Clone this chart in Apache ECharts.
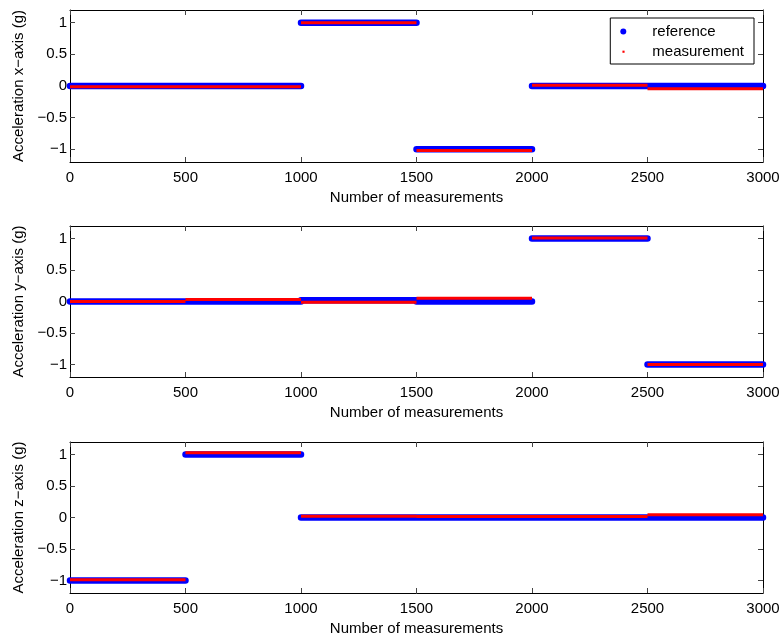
<!DOCTYPE html>
<html><head><meta charset="utf-8">
<script src="https://cdn.jsdelivr.net/npm/echarts@6/dist/echarts.min.js"></script>
<style>html,body{margin:0;padding:0;background:#fff}#c{width:784px;height:640px}</style>
</head><body><div id="c"></div>
<script>
// segment boundaries (sample index)
const segmentEdges = [0, 500, 1000, 1500, 2000, 2500, 3000];
// value of each 500-sample segment
const refX  = [0, 0, 1, -1, 0, 0];
const measX = [-0.01, -0.01, 1.0, -1.02, 0.01, -0.045];
const refY  = [0, 0, 0.02, 0, 1, -1];
const measY = [0, 0.03, -0.01, 0.05, 1.01, -1];
const refZ  = [-1, 1, 0, 0, 0, 0];
const measZ = [-0.99, 1.03, 0.02, 0.015, 0.015, 0.045];
const xTicks = [0, 500, 1000, 1500, 2000, 2500, 3000];
const yTicks = [-1, -0.5, 0, 0.5, 1];
const yNames = ['Acceleration x\u2212axis (g)', 'Acceleration y\u2212axis (g)', 'Acceleration z\u2212axis (g)'];
const xName = 'Number of measurements';

function steps(vals) {
  const out = [];
  for (let i = 0; i < vals.length; i++) {
    out.push([segmentEdges[i], vals[i]]);
    out.push([segmentEdges[i + 1], vals[i]]);
    if (i + 1 < vals.length && vals[i + 1] !== vals[i]) out.push([segmentEdges[i + 1], NaN]);
  }
  return out;
}

const FONT = 'Liberation Sans, Arial, Helvetica, sans-serif';
const tops = [10, 226, 442];
const heights = [152, 151, 151];
const grids = tops.map((t, i) => ({ left: 70, right: 21, top: t, height: heights[i] }));
const fmt = v => String(v).replace('-', '\u2212');

const xAxes = [], yAxes = [];
for (let i = 0; i < 3; i++) {
  xAxes.push({
    type: 'value', gridIndex: i, min: 0, max: 3000, position: 'bottom',
    name: xName, nameLocation: 'middle', nameGap: 28,
    nameTextStyle: { fontFamily: FONT, fontSize: 15, color: '#000' },
    axisLine: { onZero: false, lineStyle: { color: '#000', width: 1 } },
    axisTick: { inside: true, length: 5, customValues: xTicks, lineStyle: { color: '#444' } },
    axisLabel: { customValues: xTicks, margin: 8, fontFamily: FONT, fontSize: 15, color: '#000', formatter: fmt },
    splitLine: { show: false }
  });
  yAxes.push({
    type: 'value', gridIndex: i, min: -1.2, max: 1.2, position: 'left',
    name: yNames[i], nameLocation: 'middle', nameGap: 43, nameRotate: 90,
    nameTextStyle: { fontFamily: FONT, fontSize: 15, color: '#000' },
    axisLine: { onZero: false, lineStyle: { color: '#000', width: 1 } },
    axisTick: { inside: true, length: 5, customValues: yTicks, lineStyle: { color: '#444' } },
    axisLabel: { customValues: yTicks, margin: 3, fontFamily: FONT, fontSize: 15, color: '#000', formatter: fmt },
    splitLine: { show: false }
  });
}
for (let i = 0; i < 3; i++) {
  xAxes.push({
    type: 'value', gridIndex: i, min: 0, max: 3000, position: 'top',
    axisLine: { onZero: false, lineStyle: { color: '#000', width: 1 } },
    axisTick: { inside: true, length: 5, customValues: xTicks, lineStyle: { color: '#444' } },
    axisLabel: { show: false }, splitLine: { show: false }
  });
  yAxes.push({
    type: 'value', gridIndex: i, min: -1.2, max: 1.2, position: 'right',
    axisLine: { onZero: false, lineStyle: { color: '#000', width: 1 } },
    axisTick: { inside: true, length: 5, customValues: yTicks, lineStyle: { color: '#444' } },
    axisLabel: { show: false }, splitLine: { show: false }
  });
}

const refs = [refX, refY, refZ];
const meas = [measX, measY, measZ];
const series = [];
for (let i = 0; i < 3; i++) {
  series.push({
    name: 'reference', type: 'line', xAxisIndex: i, yAxisIndex: i,
    data: steps(refs[i]), symbol: 'none', connectNulls: false,
    itemStyle: { color: '#0000ff' },
    lineStyle: { color: '#0000ff', width: 6.5, cap: 'round' }, z: 2
  });
  series.push({
    name: 'measurement', type: 'line', xAxisIndex: i, yAxisIndex: i,
    data: steps(meas[i]), symbol: 'none', connectNulls: false,
    itemStyle: { color: '#ff0000' },
    lineStyle: { color: '#ff0000', width: 3, cap: 'butt' }, z: 3
  });
}

const chart = echarts.init(document.getElementById('c'), null, { renderer: 'canvas' });
chart.setOption({
  animation: false,
  backgroundColor: '#fff',
  grid: grids,
  xAxis: xAxes,
  yAxis: yAxes,
  legend: {
    right: 30, top: 18, orient: 'vertical', selectedMode: false,
    backgroundColor: '#fff', borderColor: '#000', borderWidth: 1, borderRadius: 0,
    padding: [6, 10, 5, 10], itemGap: 5, itemWidth: 48, itemHeight: 6,
    textStyle: { fontFamily: FONT, fontSize: 15, color: '#000', lineHeight: 15 },
    data: [
      { name: 'reference', icon: 'circle' },
      { name: 'measurement', icon: 'path://M0,0M7,7M2.5,2.5h2.5v2.5h-2.5z' }
    ]
  },
  series: series
});
</script>
</body></html>
